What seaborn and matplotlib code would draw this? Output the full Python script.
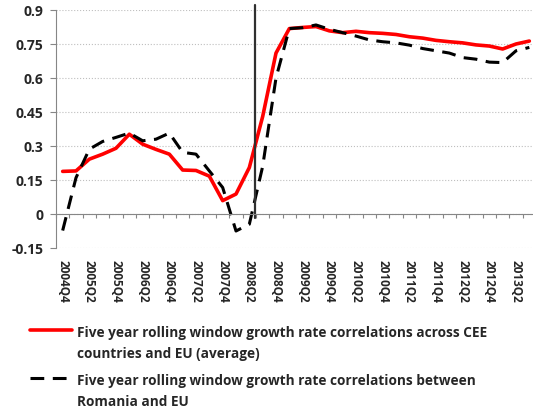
import numpy as np
import pandas as pd
import seaborn as sns
import matplotlib.pyplot as plt

# quarterly labels 2004Q4 .. 2013Q3
quarters = ["2004Q4"] + [f"{y}Q{q}" for y in range(2005, 2013) for q in range(1, 5)] + ["2013Q1", "2013Q2", "2013Q3"]

cee_avg = [0.188, 0.19, 0.242, 0.264, 0.29, 0.352, 0.308, 0.285, 0.264, 0.194,
           0.192, 0.167, 0.059, 0.088, 0.205, 0.43, 0.71, 0.818, 0.823, 0.827,
           0.808, 0.80, 0.806, 0.80, 0.797, 0.792, 0.782, 0.776, 0.766, 0.76,
           0.755, 0.746, 0.741, 0.728, 0.75, 0.763]
romania = [-0.073, 0.16, 0.286, 0.32, 0.338, 0.357, 0.323, 0.33, 0.357, 0.272,
           0.264, 0.19, 0.117, -0.075, -0.045, 0.21, 0.6, 0.818, 0.822, 0.834,
           0.815, 0.80, 0.785, 0.768, 0.76, 0.755, 0.745, 0.73, 0.72, 0.71,
           0.69, 0.683, 0.67, 0.668, 0.72, 0.735]

yticks = [-0.15, 0, 0.15, 0.3, 0.45, 0.6, 0.75, 0.9]
ytick_labels = ["-0.15", "0", "0.15", "0.3", "0.45", "0.6", "0.75", "0.9"]

label_cee = "Five year rolling window growth rate correlations across CEE\ncountries and EU (average)"
label_rom = "Five year rolling window growth rate correlations between\nRomania and EU"

break_pos = 14.4  # vertical marker between 2008Q2 and 2008Q3

sns.set_style("white")
plt.rcParams['font.family'] = ['Open Sans', 'DejaVu Sans']
plt.rcParams['font.weight'] = 'bold'

df = pd.DataFrame({"pos": np.arange(len(quarters)), "quarter": quarters,
                   "cee": cee_avg, "rom": romania})

grey = "#868686"
fig = plt.figure(figsize=(5.33, 4.14), dpi=100)
ax = fig.add_axes([56 / 533, 1 - 249 / 414, 480 / 533, 238 / 414])

sns.lineplot(data=df, x="pos", y="cee", color="#FF0000", lw=2.6, ax=ax, label=label_cee)
sns.lineplot(data=df, x="pos", y="rom", color="black", lw=2.2, ax=ax, label=label_rom,
             linestyle=(0, (4.5, 2.8)))

ax.axvline(break_pos, ymin=0.124, ymax=1.02, color="#303030", lw=1.6, clip_on=False)

ax.set_xlim(-0.5, len(quarters) - 0.5)
ax.set_ylim(-0.15, 0.9)
ax.set_xlabel("")
ax.set_ylabel("")

ax.set_yticks(yticks, labels=ytick_labels, fontsize=10)
ax.tick_params(axis="y", left=True, length=4, color=grey, pad=5)
ax.yaxis.grid(True, color="#BFBFBF", ls=":", lw=0.8)

ax.spines["top"].set_visible(False)
ax.spines["right"].set_visible(False)
ax.spines["left"].set_color(grey)
ax.spines["bottom"].set_color(grey)
ax.spines["bottom"].set_position(("data", 0))

ax.set_xticks(np.arange(-0.5, len(quarters), 1))
ax.tick_params(axis="x", bottom=True, direction="out", length=3, color=grey, labelbottom=False)

sec = ax.secondary_xaxis("bottom")
sec.set_xticks(df["pos"][::2], labels=quarters[::2], rotation=-90, fontsize=8.5)
sec.tick_params(length=0, pad=8)
sec.spines["bottom"].set_visible(False)

handles, labels = ax.get_legend_handles_labels()
ax.get_legend().remove()
leg = fig.legend(handles, labels, loc="upper left", bbox_to_anchor=(30 / 533, 1 - 326 / 414),
                 frameon=False, fontsize=9.8, handlelength=3.1, handletextpad=0.35,
                 labelspacing=1.0, borderpad=0, borderaxespad=0)
for t in leg.get_texts():
    t.set_linespacing(1.62)
for col in leg._legend_handle_box.get_children():
    for item in col.get_children():
        item.align = "top"

fig.savefig("out.png", dpi=100)
